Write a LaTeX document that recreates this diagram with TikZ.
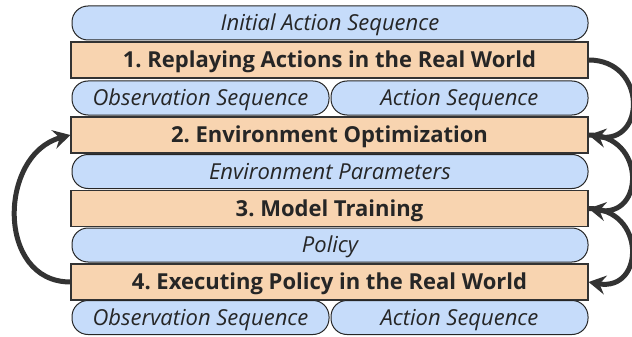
\documentclass[tikz,border=0pt]{standalone}
\usepackage{fontspec}
\setmainfont{Open Sans}
\usetikzlibrary{arrows.meta}
\definecolor{stagefill}{HTML}{F8D4B0}
\definecolor{datafill}{HTML}{C6DCFA}
\definecolor{linegray}{HTML}{333333}
\frenchspacing
\begin{document}
\begin{tikzpicture}[x=1pt,y=1pt,
  stage/.style={rectangle,draw=linegray,line width=1.2pt,fill=stagefill,minimum width=517pt,minimum height=36pt,inner sep=0pt,text height=18pt,text depth=3pt,font=\fontsize{22}{26}\selectfont\bfseries,text=black!85},
  data/.style={rectangle,rounded corners=16pt,draw=black!85,line width=1pt,fill=datafill,minimum width=516pt,minimum height=34pt,inner sep=0pt,text height=18pt,text depth=3pt,font=\fontsize{22}{26}\selectfont\itshape,text=black!85},
  halfdata/.style={data,minimum width=257pt},
  loop/.style={-{Stealth[length=17pt,width=19pt,inset=6pt]},line width=5pt,linegray}]
\useasboundingbox (0,0) rectangle (632,-337);
\node[data] (I) at (330,-23) {Initial Action Sequence};
\node[stage] (S1) at (329.5,-60) {1. Replaying Actions in the Real World};
\node[halfdata] (O1) at (200.5,-98) {Observation Sequence};
\node[halfdata] (A1) at (459.5,-98) {Action Sequence};
\node[stage] (S2) at (329.5,-135) {2. Environment Optimization};
\node[data] (E) at (330,-171.5) {Environment Parameters};
\node[stage] (S3) at (329.5,-208.5) {3. Model Training};
\node[data] (P) at (330,-245) {Policy};
\node[stage] (S4) at (329.5,-282) {4. Executing Policy in the Real World};
\node[halfdata] (O4) at (200.5,-317.5) {Observation Sequence};
\node[halfdata] (A4) at (459.5,-317.5) {Action Sequence};
\draw[loop] (S1.east) to[out=0,in=-10,looseness=2] (S2.east);
\draw[loop] (S2.east) to[out=0,in=-10,looseness=2] (S3.east);
\draw[loop] (S3.east) to[out=0,in=-10,looseness=2] (S4.east);
\draw[loop] (S4.west) to[out=180,in=195,looseness=1.3] (S2.west);
\end{tikzpicture}
\end{document}
